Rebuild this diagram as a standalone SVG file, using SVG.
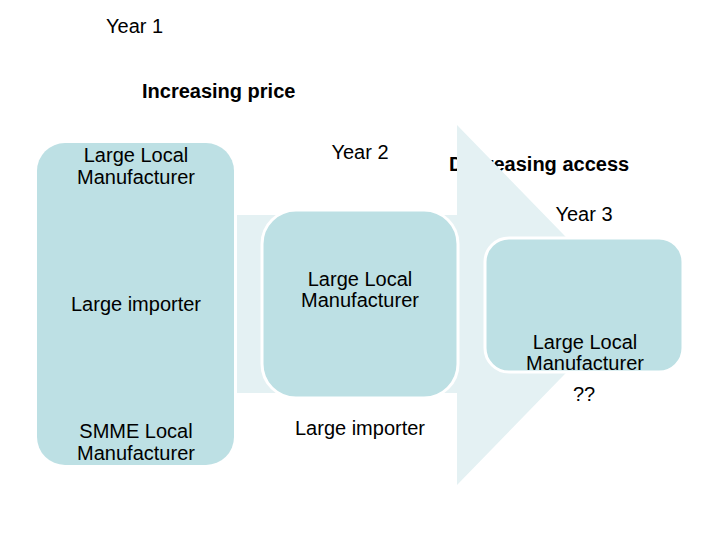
<svg xmlns="http://www.w3.org/2000/svg" width="720" height="540" viewBox="0 0 720 540">
<style>
text{font-family:"Liberation Sans",Arial,sans-serif;font-size:20px;fill:#000}
.b{font-weight:bold;font-size:20px}
.m{text-anchor:middle}
.box{fill:#bde0e4}
.bw{stroke:#fff;stroke-width:3}
.arr{fill:#e4f1f3}
</style>
<rect width="720" height="540" fill="#fff"/>
<text id="t-dec" class="b" x="449" y="171">Decreasing access</text>
<g id="connectors">
<rect class="arr" x="237" y="215" width="222" height="178"/>
<polygon class="arr" points="457,125 632,305 457,485"/>
</g>
<text id="t-year1" x="106" y="33">Year 1</text>
<text id="t-price" class="b" x="142" y="98">Increasing price</text>
<g id="node-year1">
<rect class="box" x="37" y="143" width="197" height="322" rx="28"/>
<text class="m" x="136" y="162">Large Local</text>
<text class="m" x="136" y="184">Manufacturer</text>
<text class="m" x="136" y="311">Large importer</text>
<text class="m" x="136" y="438">SMME Local</text>
<text class="m" x="136" y="460">Manufacturer</text>
</g>
<g id="node-year2">
<text class="m" x="360" y="159">Year 2</text>
<rect class="box bw" x="262" y="210" width="196" height="188" rx="34"/>
<text class="m" x="360" y="286">Large Local</text>
<text class="m" x="360" y="307">Manufacturer</text>
<text class="m" x="360" y="435">Large importer</text>
</g>
<g id="node-year3">
<text class="m" x="584" y="221">Year 3</text>
<rect class="box bw" x="485" y="238" width="198" height="134" rx="24"/>
<text class="m" x="585" y="349">Large Local</text>
<text class="m" x="585" y="370">Manufacturer</text>
<text class="m" x="584" y="401">??</text>
</g>
</svg>
